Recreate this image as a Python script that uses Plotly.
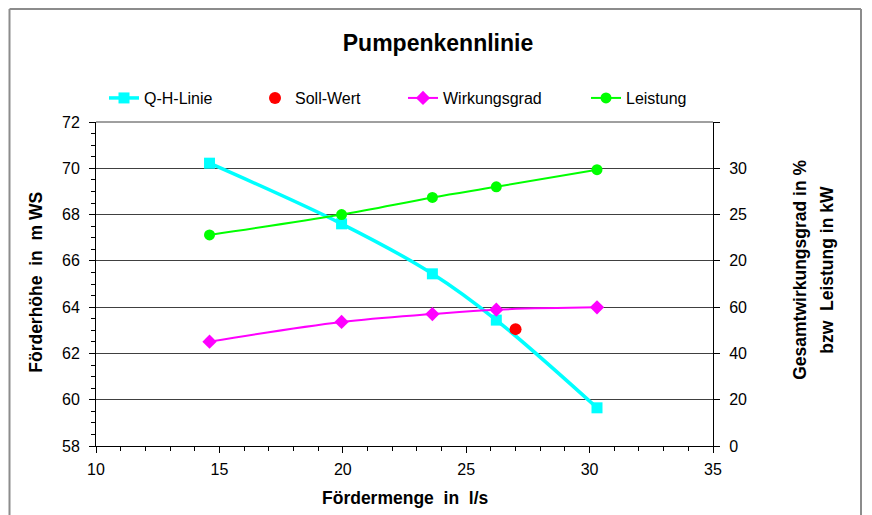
import plotly.graph_objects as go

# Data
foerdermenge = [14.6, 19.95, 23.63, 26.22, 30.3]      # l/s
foerderhoehe = [70.22, 67.6, 65.44, 63.44, 59.65]      # m WS (Q-H-Linie)
wirkungsgrad = [45.1, 53.6, 57.0, 58.9, 59.9]          # %
leistung = [22.8, 25.0, 26.85, 28.0, 29.85]            # kW
soll_q = [27.0]
soll_h = [63.05]

x_ticks = [10, 15, 20, 25, 30, 35]
h_ticks = [58, 60, 62, 64, 66, 68, 70, 72]
eta_ticks = [0, 20, 40, 60]
p_ticks = [20, 25, 30, 35]
p_ticktext = ["20", "25", "30", ""]

FONT = "Arial, Liberation Sans, sans-serif"

# page body adds an 8px margin; work in window pixels and subtract it
OFF = 8
W, H = 872 - OFF, 515 - OFF
L, R, T, B = 96 - OFF, 713 - OFF, 122 - OFF, 446.5 - OFF
def px(xp):
    return (xp - OFF - L) / (R - L)
def py(yp):
    return (B - (yp - OFF)) / (B - T)

fig = go.Figure()

fig.add_trace(go.Scatter(
    x=foerdermenge, y=foerderhoehe, name="Q-H-Linie", showlegend=True,
    mode="lines+markers", line=dict(color="#00FFFF", width=3.5, shape="spline"),
    marker=dict(symbol="square", size=11, color="#00FFFF"),
    legend="legend", yaxis="y"))

fig.add_trace(go.Scatter(
    x=soll_q, y=soll_h, name="Soll-Wert", mode="markers", showlegend=True,
    marker=dict(symbol="circle", size=12, color="#FF0000"),
    legend="legend2", yaxis="y"))

fig.add_trace(go.Scatter(
    x=foerdermenge, y=wirkungsgrad, name="Wirkungsgrad", showlegend=True,
    mode="lines+markers", line=dict(color="#FF00FF", width=2, shape="spline"),
    marker=dict(symbol="diamond", size=11, color="#FF00FF"),
    legend="legend3", yaxis="y3"))

fig.add_trace(go.Scatter(
    x=foerdermenge, y=leistung, name="Leistung", showlegend=True,
    mode="lines+markers", line=dict(color="#00FF00", width=2, shape="spline"),
    marker=dict(symbol="circle", size=11, color="#00FF00"),
    legend="legend4", yaxis="y2"))

leg_common = dict(orientation="h", yanchor="middle", y=py(98), xanchor="left",
                  bgcolor="rgba(0,0,0,0)", borderwidth=0, itemwidth=30,
                  font=dict(family=FONT, size=16, color="black"))

fig.update_layout(
    width=W, height=H, showlegend=True,
    margin=dict(l=L, r=W - R, t=T, b=H - B),
    paper_bgcolor="white", plot_bgcolor="white",
    font=dict(family=FONT, color="black"),
    title=dict(text="<b>Pumpenkennlinie</b>", x=(438 - OFF) / W, xanchor="center",
               y=1 - (43 - OFF) / H, yanchor="middle", yref="container",
               font=dict(family=FONT, size=23, color="black")),
    legend=dict(**leg_common, x=px(104)),
    legend2=dict(**leg_common, x=px(255)),
    legend3=dict(**leg_common, x=px(403)),
    legend4=dict(**leg_common, x=px(586)),
    xaxis=dict(range=[10, 35], tickvals=x_ticks, showgrid=False, zeroline=False,
               showline=True, linecolor="black", linewidth=1,
               ticks="outside", ticklen=6, tickcolor="black",
               minor=dict(dtick=1, ticks="outside", ticklen=4, tickcolor="black", showgrid=False),
               ticklabelstandoff=3,
               tickfont=dict(family=FONT, size=16, color="black")),
    yaxis=dict(range=[58, 72], tickvals=h_ticks, showgrid=True, gridcolor="#404040", gridwidth=1,
               zeroline=False, showline=True, linecolor="black", linewidth=1,
               ticks="outside", ticklen=6, tickcolor="black",
               minor=dict(dtick=0.5, ticks="outside", ticklen=4, tickcolor="black", showgrid=False),
               ticklabelstandoff=6,
               tickfont=dict(family=FONT, size=16, color="black")),
    yaxis2=dict(range=[0, 35], tickvals=p_ticks, ticktext=p_ticktext, overlaying="y", side="right",
                showgrid=False, zeroline=False, showline=True, linecolor="black", linewidth=1,
                ticks="outside", ticklen=6, tickcolor="black", ticklabelstandoff=6,
                tickfont=dict(family=FONT, size=16, color="black")),
    yaxis3=dict(range=[0, 140], tickvals=eta_ticks, overlaying="y", side="right",
                showgrid=False, zeroline=False, showline=False,
                ticks="outside", ticklen=6, tickcolor="black", ticklabelstandoff=6,
                tickfont=dict(family=FONT, size=16, color="black")),
)

# axis titles
fig.add_annotation(text="<b>Fördermenge\u00a0 in\u00a0 l/s</b>", xref="paper", yref="paper",
                   x=px(405), y=py(499), showarrow=False, xanchor="center", yanchor="middle",
                   font=dict(family=FONT, size=17.5, color="black"))
fig.add_annotation(text="<b>Förderhöhe\u00a0 in\u00a0 m WS</b>", xref="paper", yref="paper",
                   x=px(36), y=py(283), showarrow=False, textangle=-90,
                   xanchor="center", yanchor="middle",
                   font=dict(family=FONT, size=17.5, color="black"))
fig.add_annotation(text="<b>Gesamtwirkungsgrad in %</b>", xref="paper", yref="paper",
                   x=px(800), y=py(270), showarrow=False, textangle=-90,
                   xanchor="center", yanchor="middle",
                   font=dict(family=FONT, size=17.5, color="black"))
fig.add_annotation(text="<b>bzw\u00a0 Leistung in kW</b>", xref="paper", yref="paper",
                   x=px(827), y=py(270), showarrow=False, textangle=-90,
                   xanchor="center", yanchor="middle",
                   font=dict(family=FONT, size=17.5, color="black"))

# top line of plot area and outer chart frame
fig.add_shape(type="line", xref="paper", yref="paper", x0=0, x1=1, y0=1, y1=1,
              line=dict(color="#404040", width=1))
frame = dict(color="#8c8c8c", width=2)
fig.add_shape(type="line", xref="paper", yref="paper", x0=px(9.5), x1=px(9.5),
              y0=py(8.8), y1=py(530), line=frame)
fig.add_shape(type="line", xref="paper", yref="paper", x0=px(9.5), x1=px(861),
              y0=py(8.8), y1=py(8.8), line=frame)
fig.add_shape(type="line", xref="paper", yref="paper", x0=px(861), x1=px(861),
              y0=py(8.8), y1=py(530), line=frame)

fig.write_html("out.html")
